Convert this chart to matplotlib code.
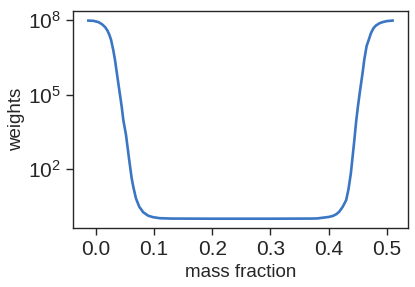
import matplotlib
matplotlib.use("Agg")
import matplotlib.pyplot as plt
from matplotlib.ticker import NullLocator

# mass fraction and log10(weights)
mass_fraction = [-0.0127, -0.004, 0.0045, 0.0103, 0.016, 0.020, 0.0233, 0.0262,
                 0.030, 0.033, 0.0387, 0.0445, 0.0473, 0.0519, 0.057, 0.0616,
                 0.0644, 0.069, 0.0747, 0.0815, 0.090, 0.0986, 0.11, 0.13,
                 0.2, 0.3, 0.37, 0.38, 0.39, 0.400, 0.407, 0.413, 0.418,
                 0.424, 0.430, 0.434, 0.438, 0.441, 0.444, 0.447, 0.450,
                 0.454, 0.458, 0.461, 0.465, 0.4726, 0.477, 0.481, 0.487,
                 0.4926, 0.500, 0.5096]
log_weights = [7.98, 7.97, 7.92, 7.84, 7.72, 7.58, 7.41, 7.21,
               6.80, 6.40, 5.46, 4.52, 3.98, 3.38, 2.44, 1.64,
               1.29, 0.82, 0.48, 0.26, 0.12, 0.06, 0.02, 0.005,
               0.0, 0.0, 0.005, 0.01, 0.04, 0.07, 0.11, 0.18, 0.28,
               0.48, 0.75, 1.2, 1.83, 2.5, 3.17, 3.9, 4.5,
               5.2, 5.85, 6.40, 6.95, 7.48, 7.68, 7.78, 7.87,
               7.92, 7.96, 7.98]
weights = [10 ** v for v in log_weights]

plt.rcParams['font.family'] = ['Liberation Sans', 'DejaVu Sans']
plt.rcParams['mathtext.fontset'] = 'custom'
plt.rcParams['mathtext.rm'] = 'Liberation Sans'
plt.rcParams['mathtext.it'] = 'Liberation Sans:italic'
plt.rcParams['mathtext.default'] = 'regular'

fig = plt.figure(figsize=(4.15, 2.87), dpi=100)
ax = fig.add_axes([0.176, 0.206, 0.807, 0.756])

ax.plot(mass_fraction, weights, color='#3a76c4', linewidth=1.9)
ax.set_yscale('log')
ax.set_xlim(-0.039, 0.536)
ax.set_ylim(10 ** -0.37, 10 ** 8.37)

ax.set_yticks([1e2, 1e5, 1e8])
ax.yaxis.set_minor_locator(NullLocator())
ax.set_xticks([0.0, 0.1, 0.2, 0.3, 0.4, 0.5])

for s in ax.spines.values():
    s.set_color('#262626')
    s.set_linewidth(1.0)
ax.tick_params(axis='both', which='major', direction='out', length=5,
               width=1.0, color='#262626', labelsize=15, labelcolor='#262626',
               pad=4)

ax.set_xlabel('mass fraction', fontsize=13.5, color='#262626', labelpad=3)
ax.set_ylabel('weights', fontsize=13.5, color='#262626')
ax.yaxis.set_label_coords(-0.143, 0.5)

fig.savefig('out.png', dpi=100)
